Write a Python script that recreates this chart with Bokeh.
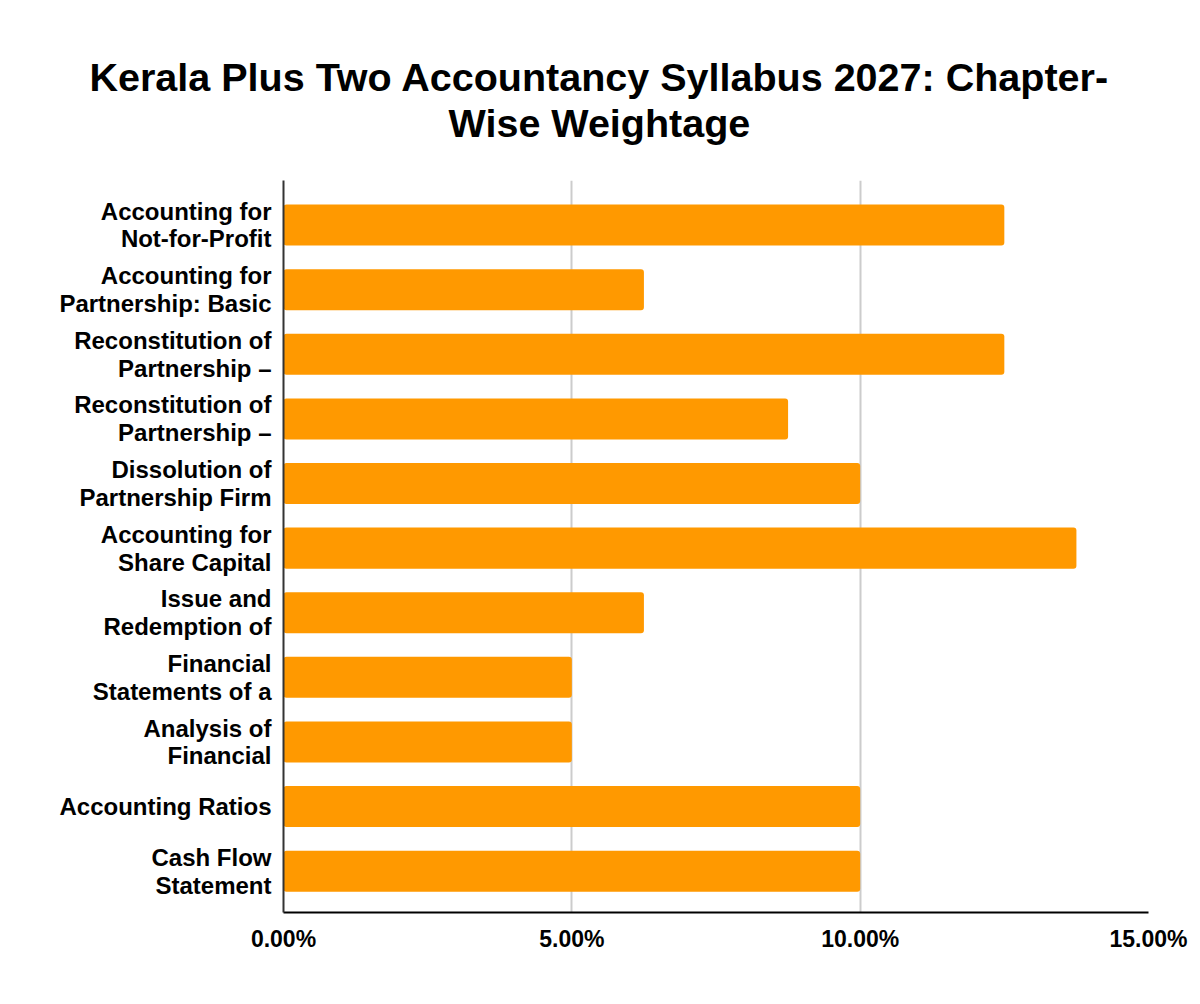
from bokeh.plotting import figure
from bokeh.models import Range1d, FixedTicker, NumeralTickFormatter, Title
from bokeh.embed import file_html
from bokeh.resources import INLINE

# chapter names (cut to two lines as in the source chart) and their weightage
chapters = [
    "Accounting for\nNot-for-Profit",
    "Accounting for\nPartnership: Basic",
    "Reconstitution of\nPartnership –",
    "Reconstitution of\nPartnership –",
    "Dissolution of\nPartnership Firm",
    "Accounting for\nShare Capital",
    "Issue and\nRedemption of",
    "Financial\nStatements of a",
    "Analysis of\nFinancial",
    "Accounting Ratios",
    "Cash Flow\nStatement",
]
weightage = [0.125, 0.0625, 0.125, 0.0875, 0.10, 0.1375, 0.0625, 0.05, 0.05, 0.10, 0.10]
x_ticks = [0, 0.05, 0.10, 0.15]
title_lines = ["Kerala Plus Two Accountancy Syllabus 2027: Chapter-", "Wise Weightage"]

FONT = "Liberation Sans"
positions = list(range(len(chapters)))

p = figure(
    width=1192,
    height=996,
    x_range=Range1d(0, 0.15),
    y_range=Range1d(len(chapters) - 1 + 0.64, -0.69),
    output_backend="svg",
    toolbar_location=None,
    min_border_left=283,
    min_border_right=44,
    min_border_top=180,
    min_border_bottom=84,
)
p.outline_line_color = None

# title: two lines, shifted left so they sit centred on the page, not the frame
title_offsets = [-194, 165]
title_standoffs = [-70, 71]
for line, off, so in reversed(list(zip(title_lines, title_offsets, title_standoffs))):
    p.add_layout(Title(
        text=line, align="left", offset=off, standoff=so,
        text_font=FONT, text_font_size="39.5px", text_font_style="bold",
        text_color="#000000",
    ), "above")

p.hbar(y=positions, right=weightage, left=0, height=0.635,
       color="#ff9900", line_color=None, border_radius=3)

# x axis
p.xaxis.ticker = FixedTicker(ticks=x_ticks)
p.xaxis.formatter = NumeralTickFormatter(format="0.00%")
p.xaxis.major_label_text_font = FONT
p.xaxis.major_label_text_font_size = "23px"
p.xaxis.major_label_text_font_style = "bold"
p.xaxis.major_label_text_color = "#000000"
p.xaxis.major_label_standoff = 7
p.xaxis.major_tick_line_color = None
p.xaxis.minor_tick_line_color = None
p.xaxis.axis_line_color = "#000000"
p.xaxis.axis_line_width = 2

# y axis with chapter labels
p.yaxis.ticker = FixedTicker(ticks=positions)
p.yaxis.major_label_overrides = {i: c for i, c in zip(positions, chapters)}
p.yaxis.major_label_text_font = FONT
p.yaxis.major_label_text_font_size = "24px"
p.yaxis.major_label_text_font_style = "bold"
p.yaxis.major_label_text_color = "#000000"
p.yaxis.major_label_text_line_height = 1.03
p.yaxis.major_label_standoff = 6
p.yaxis.major_tick_line_color = None
p.yaxis.minor_tick_line_color = None
p.yaxis.axis_line_color = "#333333"
p.yaxis.axis_line_width = 2

p.xgrid.ticker = FixedTicker(ticks=x_ticks)
p.xgrid.grid_line_color = "#cccccc"
p.xgrid.grid_line_width = 2
p.ygrid.grid_line_color = None

open("out.html", "w").write(file_html(p, INLINE))
